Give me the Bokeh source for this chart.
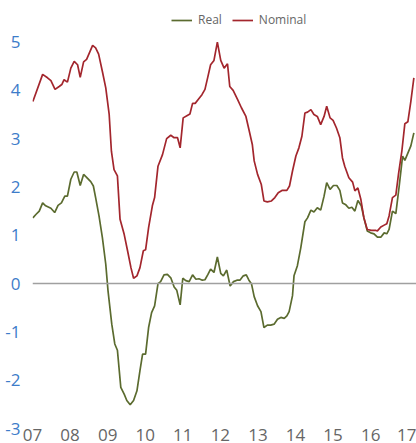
from bokeh.plotting import figure
from bokeh.models import Range1d, FixedTicker, Span, Legend, LegendItem
from bokeh.embed import file_html
from bokeh.resources import INLINE

# years (decimal, 7 = 2007) and values
nominal_t = [7.01, 7.27, 7.40, 7.49, 7.60, 7.71, 7.78, 7.84, 7.93, 8.02, 8.11, 8.20, 8.27, 8.36, 8.44,
             8.60, 8.68, 8.76, 8.86, 8.95, 9.04, 9.10, 9.17, 9.26, 9.33, 9.44, 9.53, 9.62, 9.69, 9.78,
             9.86, 9.95, 10.01, 10.09, 10.19, 10.25, 10.34, 10.46, 10.57, 10.68, 10.77, 10.86, 10.93,
             11.01, 11.12, 11.19, 11.26, 11.33, 11.41, 11.51, 11.59, 11.67, 11.74, 11.83, 11.92, 12.01,
             12.10, 12.19, 12.25, 12.34, 12.46, 12.56, 12.68, 12.76, 12.85, 12.90, 12.99, 13.09, 13.16,
             13.25, 13.36, 13.45, 13.54, 13.65, 13.77, 13.84, 13.92, 14.01, 14.09, 14.17, 14.25, 14.32,
             14.41, 14.49, 14.58, 14.67, 14.76, 14.83, 14.92, 15.00, 15.09, 15.18, 15.25, 15.31, 15.42,
             15.52, 15.58, 15.66, 15.74, 15.82, 15.91, 16.02, 16.14, 16.18, 16.27, 16.36, 16.43, 16.49,
             16.58, 16.67, 16.74, 16.83, 16.91, 16.99, 17.07, 17.15]
nominal_v = [3.77, 4.33, 4.26, 4.20, 4.02, 4.08, 4.12, 4.22, 4.17, 4.46, 4.60, 4.53, 4.27, 4.59, 4.64,
             4.93, 4.88, 4.75, 4.39, 4.05, 3.51, 2.74, 2.36, 2.23, 1.33, 1.02, 0.68, 0.33, 0.11, 0.16,
             0.33, 0.68, 0.70, 1.16, 1.61, 1.78, 2.43, 2.67, 3.00, 3.07, 3.02, 3.02, 2.81,
             3.43, 3.48, 3.51, 3.73, 3.73, 3.81, 3.91, 4.02, 4.29, 4.53, 4.62, 5.00, 4.62,
             4.46, 4.55, 4.08, 4.00, 3.81, 3.64, 3.46, 3.19, 2.88, 2.54, 2.26, 2.05, 1.71,
             1.69, 1.71, 1.78, 1.88, 1.93, 1.93, 2.02, 2.33, 2.64, 2.81, 3.05, 3.53, 3.55,
             3.60, 3.50, 3.46, 3.29, 3.46, 3.67, 3.43, 3.38, 3.22, 3.02, 2.60, 2.43, 2.19,
             2.10, 1.92, 1.98, 1.74, 1.36, 1.12, 1.10, 1.10, 1.09, 1.17, 1.21, 1.24, 1.40,
             1.78, 1.83, 2.26, 2.74, 3.31, 3.35, 3.77, 4.26]

real_t = [7.01, 7.09, 7.18, 7.27, 7.35, 7.49, 7.59, 7.68, 7.77, 7.86, 7.93, 8.02, 8.11, 8.18, 8.27,
          8.36, 8.44, 8.55, 8.62, 8.68, 8.77, 8.86, 8.95, 9.01, 9.11, 9.19, 9.26, 9.35, 9.44, 9.51,
          9.60, 9.69, 9.78, 9.86, 9.93, 10.01, 10.09, 10.17, 10.25, 10.34, 10.41, 10.50, 10.59, 10.68,
          10.77, 10.84, 10.93, 11.00, 11.08, 11.17, 11.26, 11.35, 11.43, 11.52, 11.59, 11.67, 11.74,
          11.83, 11.92, 12.01, 12.08, 12.17, 12.26, 12.35, 12.44, 12.52, 12.61, 12.69, 12.76, 12.83,
          12.90, 12.99, 13.08, 13.16, 13.25, 13.34, 13.43, 13.52, 13.61, 13.70, 13.77, 13.83, 13.92,
          13.96, 14.05, 14.14, 14.25, 14.32, 14.41, 14.49, 14.58, 14.67, 14.76, 14.83, 14.92, 15.01,
          15.10, 15.18, 15.25, 15.34, 15.42, 15.50, 15.58, 15.66, 15.75, 15.82, 15.91, 16.00, 16.09,
          16.18, 16.27, 16.36, 16.43, 16.49, 16.58, 16.67, 16.76, 16.85, 16.91, 17.07, 17.15]
real_v = [1.36, 1.43, 1.50, 1.67, 1.61, 1.56, 1.47, 1.62, 1.67, 1.81, 1.81, 2.16, 2.31, 2.31, 2.03,
          2.26, 2.20, 2.11, 2.02, 1.78, 1.40, 0.95, 0.40, -0.15, -0.84, -1.25, -1.38, -2.15, -2.29, -2.42,
          -2.51, -2.42, -2.22, -1.80, -1.46, -1.46, -0.91, -0.60, -0.46, 0.00, 0.04, 0.18, 0.19, 0.12,
          -0.07, -0.14, -0.44, 0.11, 0.06, 0.04, 0.18, 0.09, 0.10, 0.07, 0.08, 0.19, 0.30,
          0.23, 0.55, 0.21, 0.16, 0.28, -0.05, 0.04, 0.07, 0.07, 0.16, 0.18, 0.07, -0.01,
          -0.27, -0.46, -0.58, -0.91, -0.86, -0.86, -0.84, -0.74, -0.70, -0.72, -0.67, -0.58, -0.25,
          0.16, 0.37, 0.74, 1.28, 1.36, 1.52, 1.48, 1.57, 1.52, 1.81, 2.09, 1.95, 2.03,
          2.03, 1.93, 1.67, 1.63, 1.56, 1.58, 1.50, 1.72, 1.61, 1.36, 1.09, 1.05, 1.03,
          0.96, 0.96, 1.05, 1.03, 1.12, 1.50, 1.45, 2.02, 2.64, 2.55, 2.85, 3.12]

tick_years = [7, 8, 9, 10, 11, 12, 13, 14, 15, 16, 17]
tick_labels = ["07", "08", "09", "10", "11", "12", "13", "14", "15", "16", "17"]
y_ticks = [-3, -2, -1, 0, 1, 2, 3, 4, 5]
y_tick_labels = ["-3", "-2", "-1", "0", "1", "2", "3", "4", "5"]

FONT = "Open Sans"

p = figure(width=416, height=443, output_backend="svg", toolbar_location=None,
           x_range=Range1d(7.0, 17.22), y_range=Range1d(-3.0, 5.86),
           min_border_left=32, min_border_right=0, min_border_top=0, min_border_bottom=0)
p.outline_line_color = None
p.grid.visible = False
p.background_fill_color = "white"
p.border_fill_color = "white"

for ax in (p.xaxis, p.yaxis):
    ax.axis_line_color = None
    ax.major_tick_line_color = None
    ax.minor_tick_line_color = None
    ax.major_label_text_font = FONT
    ax.major_label_text_font_size = "17px"

p.xaxis.ticker = FixedTicker(ticks=tick_years)
p.xaxis.major_label_overrides = {t: l for t, l in zip(tick_years, tick_labels)}
p.xaxis.major_label_text_color = "#666666"
p.xaxis.major_label_standoff = -6

p.yaxis.ticker = FixedTicker(ticks=y_ticks)
p.yaxis.major_label_overrides = {t: l for t, l in zip(y_ticks, y_tick_labels)}
p.yaxis.major_label_text_color = "#3d7cc9"
p.yaxis.major_label_standoff = 6

p.add_layout(Span(location=0, dimension="width", line_color="#a0a0a0", line_width=1.5))

r_real = p.line(real_t, real_v, line_color="#5b6b2f", line_width=1.7)
r_nom = p.line(nominal_t, nominal_v, line_color="#a3262d", line_width=1.7)

legend = Legend(items=[LegendItem(label="Real", renderers=[r_real]),
                       LegendItem(label="Nominal", renderers=[r_nom])],
                orientation="horizontal", location=(139, 400),
                label_text_font=FONT, label_text_font_size="12px", label_text_color="#666666",
                glyph_width=21, glyph_height=12, spacing=10, label_standoff=6,
                border_line_color=None, background_fill_alpha=0, margin=0, padding=6)
p.add_layout(legend)

open("out.html", "w").write(file_html(p, INLINE))
